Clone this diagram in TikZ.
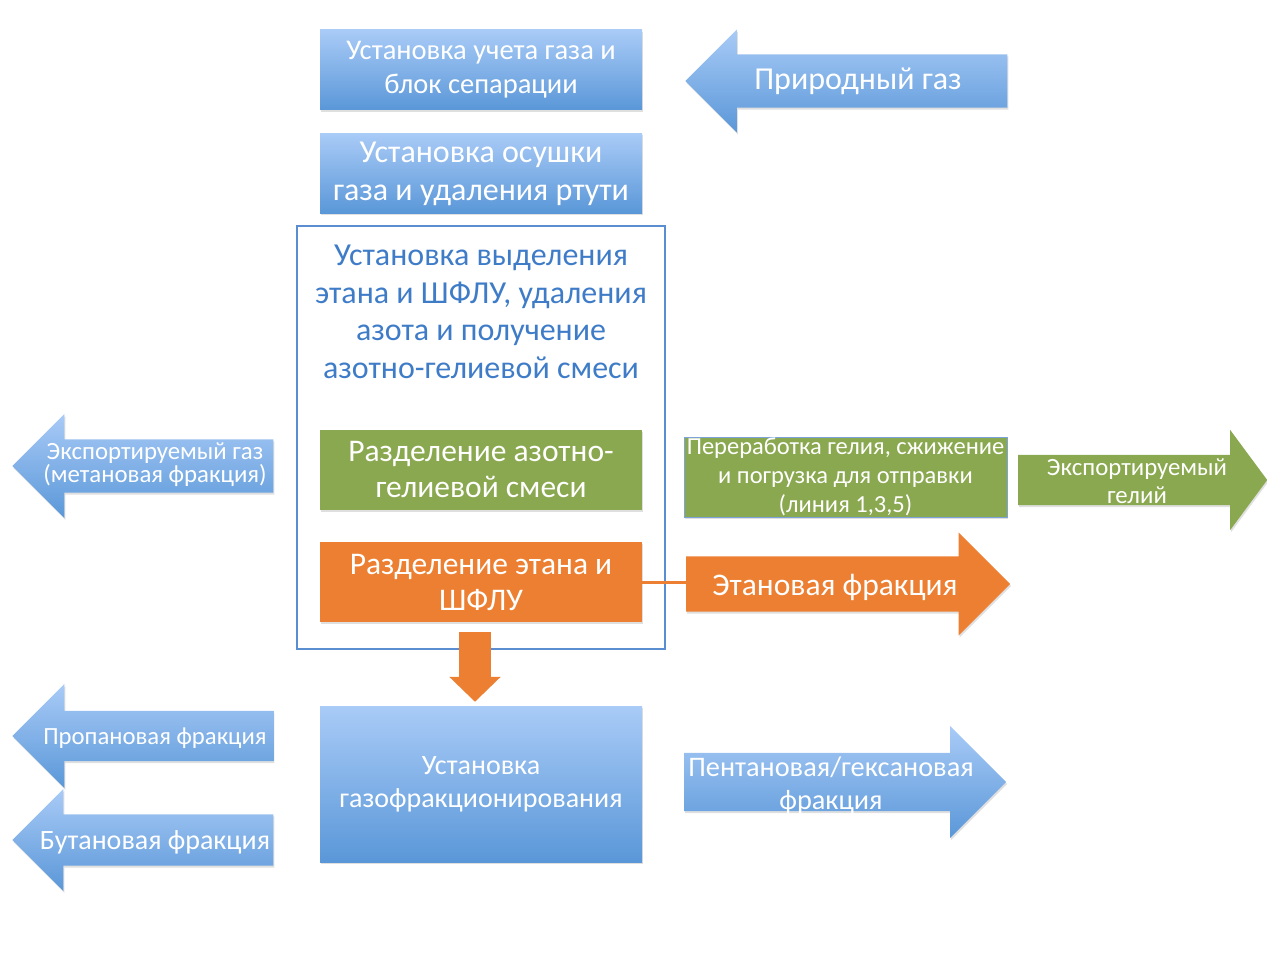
\documentclass[tikz,border=0pt]{standalone}
\usepackage{fontspec}
\setmainfont{Carlito}
\usepackage{xcolor}
\usepackage{tikz}
\usetikzlibrary{shapes.arrows,shadows,positioning,arrows.meta}

\definecolor{bluetop}{HTML}{A9CBF7}
\definecolor{bluebot}{HTML}{5A97D8}
\definecolor{olive}{HTML}{8AA84F}
\definecolor{orng}{HTML}{EC7F31}
\definecolor{framecol}{HTML}{5B8DD1}
\definecolor{frametext}{HTML}{3F7CC8}

\begin{document}
\begin{tikzpicture}[x=1pt,y=-1pt,
  box/.style={rectangle,text=white,minimum width=322pt,minimum height=80pt,
    align=center,inner sep=0pt,
    drop shadow={opacity=0.25,shadow xshift=1pt,shadow yshift=-2pt}},
  bluebox/.style={box,top color=bluetop,bottom color=bluebot},
  greenbox/.style={box,fill=olive},
  orangebox/.style={box,fill=orng},
  flow/.style={single arrow,inner xsep=0pt,
    drop shadow={opacity=0.25,shadow xshift=1pt,shadow yshift=-2pt}},
  blueflow/.style={flow,top color=bluetop,bottom color=bluebot},
  leftward/.style={shape border rotate=180},
  flowtxt/.style={text=white,align=center,inner sep=0pt},
]
\useasboundingbox (0,0) rectangle (1267,960);

% units in the middle column
\node [bluebox,font=\fontsize{28.5}{34}\selectfont] (metering) at (481,70)
  {Установка учета газа и\\блок сепарации};
\node [bluebox,below=23pt of metering,font=\fontsize{32}{38}\selectfont] (drying)
  {Установка осушки\\газа и удаления ртути};
\node [draw=framecol,line width=1.5pt,minimum width=368pt,minimum height=423pt]
  (plant) at (481,437.5) {};
\node [text=frametext,align=center,font=\fontsize{32}{37.5}\selectfont] (plantlbl)
  at (481,312) {Установка выделения\\этана и ШФЛУ, удаления\\азота и получение\\азотно-гелиевой смеси};
\node [greenbox,font=\fontsize{31.5}{36}\selectfont] (nhesep) at (481,470)
  {Разделение азотно-\\гелиевой смеси};
\node [orangebox,font=\fontsize{31.5}{36}\selectfont] (ethsep) at (481,582)
  {Разделение этана и\\ШФЛУ};
\node [bluebox,minimum height=156pt,font=\fontsize{28}{33}\selectfont] (gfu) at (481,784)
  {Установка\\газофракционирования};
\node [greenbox,draw=framecol!80,minimum width=323pt,font=\fontsize{24.5}{29}\selectfont]
  (helium) at (845.5,477)
  {Переработка гелия, сжижение\\и погрузка для отправки\\(линия 1,3,5)};

% block arrows
\node [blueflow,leftward,anchor=tip,minimum height=322pt,single arrow head extend=25pt,
  inner ysep=26.5pt] (natgas) at (685,81) {};
\node [flowtxt,font=\fontsize{32}{38}\selectfont] (natgastxt) at (858,81) {Природный газ};

\node [flow,fill=orng,anchor=tail,minimum height=324pt,single arrow head extend=24pt,
  inner ysep=27.5pt] (ethane) at (686,584) {};
\node [flowtxt,font=\fontsize{31.5}{36}\selectfont] (ethanetxt) at (835,587) {Этановая фракция};

\node [flow,fill=olive,anchor=tail,minimum height=249pt,single arrow head extend=25pt,
  single arrow tip angle=107,inner ysep=25pt] (heout) at (1018,480) {};
\node [flowtxt,font=\fontsize{24.8}{28}\selectfont] (heouttxt) at (1137,481)
  {Экспортируемый\\гелий};

\node [blueflow,leftward,anchor=tip,minimum height=261pt,single arrow head extend=25.5pt,
  inner ysep=26.5pt] (methane) at (12,466) {};
\node [flowtxt,font=\fontsize{24.8}{19}\selectfont] (methanetxt) at (155,465)
  {Экспортируемый газ\\(метановая фракция)};

\node [blueflow,leftward,anchor=tip,minimum height=261pt,single arrow head extend=27pt,
  inner ysep=25pt] (propane) at (12,736) {};
\node [flowtxt,font=\fontsize{24.7}{28}\selectfont] (propanetxt) at (155,738)
  {Пропановая фракция};

\node [blueflow,leftward,anchor=tip,minimum height=261pt,single arrow head extend=25.5pt,
  inner ysep=25.5pt] (butane) at (12,840) {};
\node [flowtxt,font=\fontsize{28}{32}\selectfont] (butanetxt) at (155,842)
  {Бутановая фракция};

\node [blueflow,anchor=tail,minimum height=322pt,single arrow head extend=27pt,
  inner ysep=29pt] (pentane) at (684,782) {};
\node [flowtxt,font=\fontsize{28.3}{33}\selectfont] (pentanetxt) at (831,785)
  {Пентановая/гексановая\\фракция};

% connectors
\draw [orng,line width=3pt] (ethsep.east) -- (ethsep.east -| ethane.tail);
\draw [orng,line width=32pt,-{Triangle[width=50pt,length=25pt]},
  shorten <=10pt,shorten >=4pt]
  ([xshift=-6pt]ethsep.south) -- ([xshift=-6pt]gfu.north);
\end{tikzpicture}
\end{document}
